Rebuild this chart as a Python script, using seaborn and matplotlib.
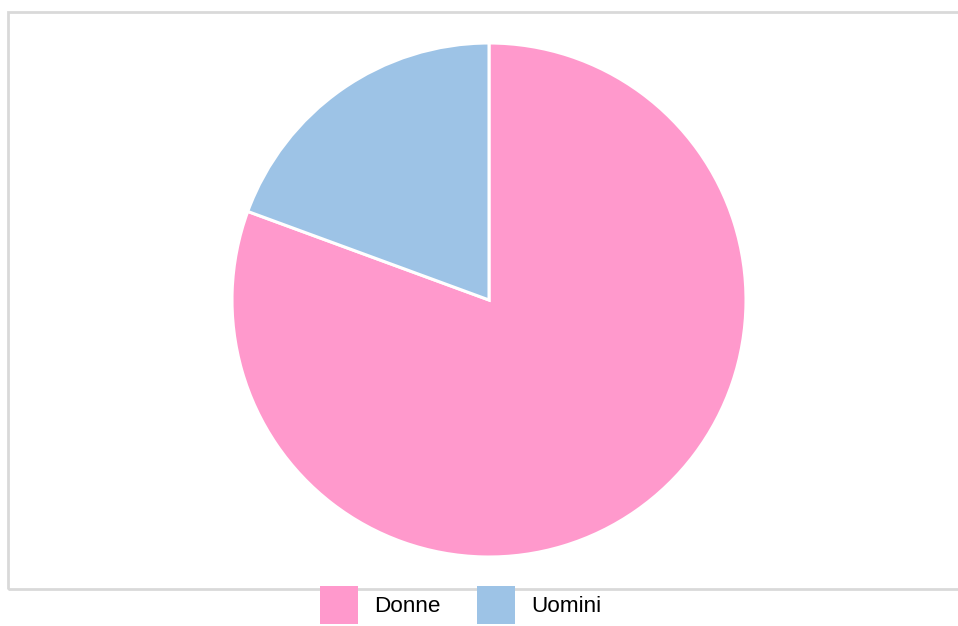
import matplotlib
matplotlib.use("Agg")
import matplotlib.pyplot as plt
import matplotlib.patches as mpatches
import seaborn as sns

# data
labels = ["Donne", "Uomini"]
values = [80.6, 19.4]
colors = ["#FF99CC", "#9DC3E6"]

sns.set_theme(style="white")
plt.rcParams["font.family"] = ["Liberation Sans", "DejaVu Sans"]

W, H = 958, 626
fig = plt.figure(figsize=(W / 100, H / 100), dpi=100)
fig.patch.set_facecolor("white")

# light grey frame around the plot area (no right edge visible)
frame = mpatches.Rectangle((8 / W, 1 - 589 / H), 960 / W, (589 - 12) / H,
                           transform=fig.transFigure, fill=False,
                           edgecolor="#d9d9d9", linewidth=2, clip_on=False)
fig.add_artist(frame)

# pie axes: center (489, 300), radius 257 px
cx, cy, r = 489, 300, 257
ax = fig.add_axes([(cx - r) / W, 1 - (cy + r) / H, 2 * r / W, 2 * r / H])
wedges, _ = ax.pie(values, colors=colors, startangle=90, counterclock=False,
                   radius=1.0, wedgeprops=dict(edgecolor="white", linewidth=2.2))
ax.set_xlim(-1, 1)
ax.set_ylim(-1, 1)
ax.set_aspect("equal")
ax.axis("off")

fs = 16.2
handles = [mpatches.Patch(facecolor=c, edgecolor="none", label=l) for c, l in zip(colors, labels)]
leg = fig.legend(handles=handles, loc="upper left", bbox_to_anchor=(320 / W, 1 - 586 / H),
                 ncol=2, frameon=False, fontsize=fs, borderpad=0, borderaxespad=0,
                 handlelength=1.69, handleheight=2.22, handletextpad=0.71, columnspacing=1.64)
for t in leg.get_texts():
    t.set_color("black")

fig.savefig("out.png", dpi=100, facecolor="white")
